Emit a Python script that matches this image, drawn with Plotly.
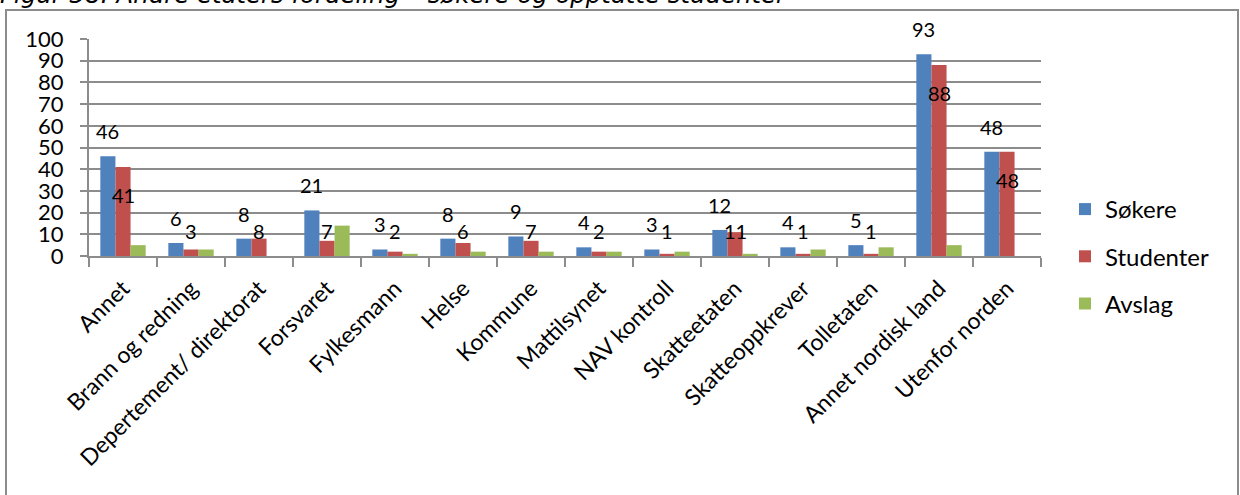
import plotly.graph_objects as go

categories = ["Annet", "Brann og redning", "Depertement/ direktorat", "Forsvaret",
              "Fylkesmann", "Helse", "Kommune", "Mattilsynet", "NAV kontroll",
              "Skatteetaten", "Skatteoppkrever", "Tolletaten", "Annet nordisk land",
              "Utenfor norden"]
sokere = [46, 6, 8, 21, 3, 8, 9, 4, 3, 12, 4, 5, 93, 48]
studenter = [41, 3, 8, 7, 2, 6, 7, 2, 1, 11, 1, 1, 88, 48]
avslag = [5, 3, 0, 14, 1, 2, 2, 2, 2, 1, 3, 4, 5, 0]

BLUE, RED, GREEN = "#4F81BD", "#C0504D", "#9BBB59"
GRID = "#8C8C8C"
FONT = "Lato"
TITLE_FONT = "DejaVu Sans"

# plot area in pixels
W, H = 1240, 495
L, R, T, B = 89, 1041, 39, 256
pw, ph = R - L, B - T

def px_x(x):
    return (x - L) / pw

def px_y(y):
    return (B - y) / ph

fig = go.Figure()
for name, vals, col in [("Søkere", sokere, BLUE),
                        ("Studenter", studenter, RED),
                        ("Avslag", avslag, GREEN)]:
    fig.add_trace(go.Bar(x=categories, y=vals, name=name, marker_color=col,
                         marker_line_width=0, legendgroup=name))

annotations = []
off = pw / len(categories) / 4.5
for c, v in zip(categories, sokere):
    annotations.append(dict(x=c, y=v, xref="x", yref="y", text=str(v), showarrow=False,
                            xshift=-off, yshift=25, yanchor="middle",
                            font=dict(family=FONT, size=20, color="black")))
for c, v in zip(categories, studenter):
    annotations.append(dict(x=c, y=max(v - 13, 11.5), xref="x", yref="y", text=str(v),
                            showarrow=False, xshift=0, yanchor="middle",
                            font=dict(family=FONT, size=20, color="black")))

annotations.append(dict(x=px_x(-2), y=px_y(11), xref="paper", yref="paper",
                        xanchor="left", yanchor="bottom", showarrow=False,
                        text="<i>Figur 38: Andre etaters fordeling – søkere og opptatte studenter</i>",
                        font=dict(family=TITLE_FONT, size=24.4, color="black")))

fig.update_layout(
    width=W, height=H,
    margin=dict(l=L, r=W - R, t=T, b=H - B, autoexpand=False),
    paper_bgcolor="white", plot_bgcolor="white",
    barmode="group", bargap=1.5 / 4.5, bargroupgap=0,
    font=dict(family=FONT, size=22, color="black"),
    annotations=annotations,
    legend=dict(x=px_x(1065), y=px_y(187), xanchor="left", yanchor="top",
                font=dict(family=FONT, size=24, color="black"),
                tracegroupgap=13, bgcolor="rgba(0,0,0,0)"),
    shapes=[dict(type="rect", xref="paper", yref="paper",
                 x0=px_x(6), x1=px_x(1238), y0=px_y(520), y1=px_y(10),
                 line=dict(color=GRID, width=2), fillcolor="rgba(0,0,0,0)", layer="below")],
    showlegend=True,
)
fig.update_xaxes(type="category", showline=True, linecolor=GRID, linewidth=2,
                 ticks="outside", tickson="boundaries", ticklen=9, tickcolor=GRID,
                 tickwidth=2, tickangle=-45, showgrid=False, ticklabelstandoff=8,
                 tickfont=dict(family=FONT, size=23, color="black"))
fig.update_yaxes(range=[0, 100], dtick=10, showline=True, linecolor=GRID, linewidth=2,
                 ticks="outside", ticklen=7, tickcolor=GRID, tickwidth=2,
                 showgrid=True, gridcolor=GRID, gridwidth=2, zeroline=False,
                 ticklabelstandoff=12,
                 tickfont=dict(family=FONT, size=22, color="black"))

fig.write_html("out.html", config={"displayModeBar": False},
               post_script="document.body.style.margin='0';")
